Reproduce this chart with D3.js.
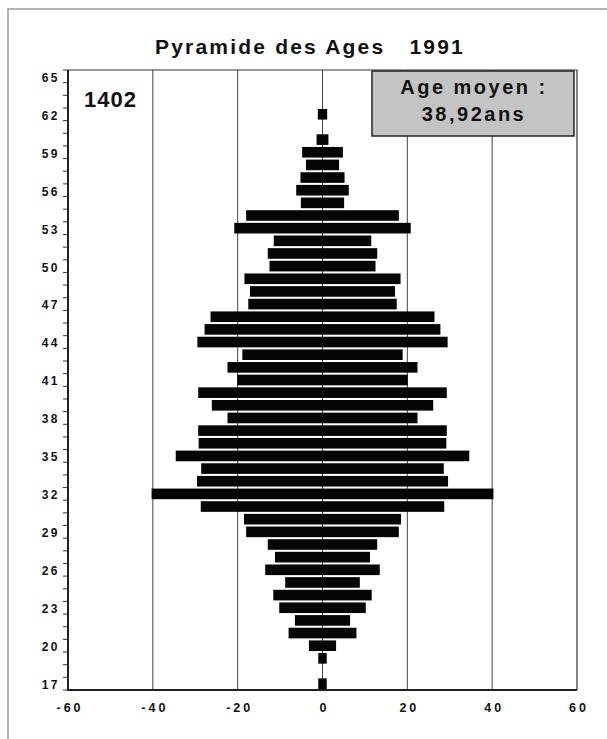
<!DOCTYPE html>
<html>
<head>
<meta charset="utf-8">
<script src="https://cdn.jsdelivr.net/npm/d3@7"></script>
<style>
  body { margin: 0; background: #fff; }
  text { font-family: "Liberation Sans", Arial, sans-serif; font-weight: bold; fill: #111; }
</style>
</head>
<body>
<script>
// ages on the vertical axis (category axis, bottom to top)
var ages = [17, 18, 19, 20, 21, 22, 23, 24, 25, 26, 27, 28, 29, 30, 31, 32, 33,
            34, 35, 36, 37, 38, 39, 40, 41, 42, 43, 44, 45, 46, 47, 48, 49, 50,
            51, 52, 53, 54, 55, 56, 57, 58, 59, 60, 61, 62, 63, 64, 65];
// half-width of each bar (drawn symmetric around 0)
var values = [1.0, 0, 1.0, 3.2, 8.0, 6.5, 10.2, 11.6, 8.8, 13.5, 11.2, 12.9, 18.0,
              18.5, 28.7, 40.3, 29.6, 28.6, 34.6, 29.2, 29.3, 22.4, 26.1, 29.3, 20.1,
              22.4, 18.9, 29.5, 27.8, 26.4, 17.5, 17.1, 18.4, 12.5, 12.9, 11.5, 20.8,
              18.0, 5.1, 6.2, 5.2, 3.9, 4.8, 1.4, 0, 1.1, 0, 0, 0];
var yLabels = [17, 20, 23, 26, 29, 32, 35, 38, 41, 44, 47, 50, 53, 56, 59, 62, 65];
var xTicks = [-60, -40, -20, 0, 20, 40, 60];
var gridTicks = [-40, -20, 0, 20, 40];
var title = "Pyramide des Ages   1991";
var total = "1402";
var ageMoyen = ["Age moyen :", "38,92ans"];

var W = 607, H = 739;
var plot = {left: 68, right: 577, top: 70, bottom: 690};

var data = ages.map(function (a, i) { return {age: a, v: values[i]}; });

var svg = d3.select("body").append("svg")
    .attr("width", W)
    .attr("height", H);

// outer frame
svg.append("path")
    .attr("d", "M8," + H + "V9H" + W)
    .attr("fill", "none")
    .attr("stroke", "#9a9a9a")
    .attr("stroke-width", 1.5);

var x = d3.scaleLinear()
    .domain([-60, 60])
    .range([plot.left, plot.right]);

var y = d3.scaleBand()
    .domain(ages.slice().reverse())
    .range([plot.top, plot.bottom])
    .paddingInner(0.16)
    .paddingOuter(0.08);

var step = y.step();

// grid lines
svg.append("g").selectAll("line")
    .data(gridTicks)
    .enter().append("line")
    .attr("x1", function (d) { return x(d); })
    .attr("x2", function (d) { return x(d); })
    .attr("y1", plot.top)
    .attr("y2", plot.bottom)
    .attr("stroke", "#444")
    .attr("stroke-width", 1);

// top and right border
svg.append("path")
    .attr("d", "M" + plot.left + "," + plot.top + "H" + plot.right + "V" + plot.bottom)
    .attr("fill", "none")
    .attr("stroke", "#333")
    .attr("stroke-width", 1.2);

// bars
svg.append("g").selectAll("rect")
    .data(data.filter(function (d) { return d.v > 0; }))
    .enter().append("rect")
    .attr("x", function (d) { return x(-d.v); })
    .attr("width", function (d) { return x(d.v) - x(-d.v); })
    .attr("y", function (d) { return y(d.age); })
    .attr("height", y.bandwidth())
    .attr("fill", "#050505");

// y axis: boundary ticks
var bounds = ages.map(function (a) { return y(a) + y.bandwidth() / 2 - step / 2; });
bounds.push(plot.bottom);
svg.append("g").selectAll("line")
    .data(bounds)
    .enter().append("line")
    .attr("x1", plot.left - 5)
    .attr("x2", plot.left)
    .attr("y1", function (d) { return d; })
    .attr("y2", function (d) { return d; })
    .attr("stroke", "#333")
    .attr("stroke-width", 1);

var yAxis = d3.axisLeft(y).tickValues(yLabels).tickSize(0).tickPadding(8);
var gy = svg.append("g")
    .attr("transform", "translate(" + plot.left + ",0)")
    .call(yAxis);
gy.select(".domain").remove();
gy.selectAll("text")
    .attr("dy", "0.45em")
    .style("font-size", "12px")
    .style("letter-spacing", "2.5px")
    .style("font-family", "Liberation Sans, Arial, sans-serif")
    .style("font-weight", "bold")
    .attr("fill", "#222");

// x axis
var xAxis = d3.axisBottom(x).tickValues(xTicks).tickSize(0).tickPadding(13)
    .tickFormat(function (d) { return d; });
var gx = svg.append("g")
    .attr("transform", "translate(0," + plot.bottom + ")")
    .call(xAxis);
gx.select(".domain").remove();
gx.selectAll("text")
    .attr("dx", "1.5px")
    .style("font-size", "12.5px")
    .style("letter-spacing", "3px")
    .style("font-family", "Liberation Sans, Arial, sans-serif")
    .style("font-weight", "bold")
    .attr("fill", "#222");

// left and bottom axis lines
svg.append("path")
    .attr("d", "M" + plot.left + "," + plot.top + "V" + plot.bottom + "H" + plot.right)
    .attr("fill", "none")
    .attr("stroke", "#222")
    .attr("stroke-width", 2);

// title
svg.append("text")
    .attr("x", 310)
    .attr("y", 54)
    .attr("text-anchor", "middle")
    .style("white-space", "pre")
    .style("font-size", "21px")
    .style("letter-spacing", "2.2px")
    .text(title);

// total
svg.append("text")
    .attr("x", 84)
    .attr("y", 107)
    .style("font-size", "22px")
    .style("letter-spacing", "1px")
    .text(total);

// age moyen box
svg.append("rect")
    .attr("x", 372)
    .attr("y", 71)
    .attr("width", 202)
    .attr("height", 65)
    .attr("fill", "#c4c4c4")
    .attr("stroke", "#222")
    .attr("stroke-width", 1.5);

svg.append("g").selectAll("text")
    .data(ageMoyen)
    .enter().append("text")
    .attr("x", 474)
    .attr("y", function (d, i) { return 94 + i * 27; })
    .attr("text-anchor", "middle")
    .style("font-size", "20px")
    .style("letter-spacing", "2.5px")
    .text(function (d) { return d; });
</script>
</body>
</html>
